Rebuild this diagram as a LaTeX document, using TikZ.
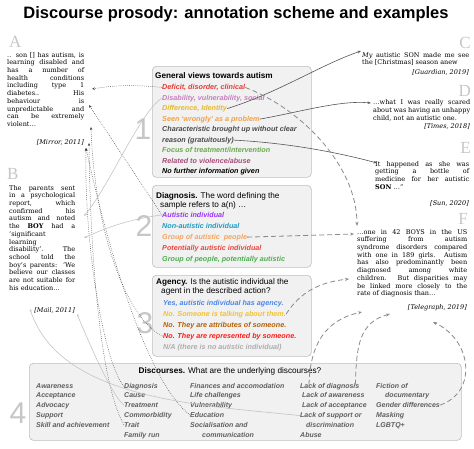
\documentclass[tikz,border=0pt]{standalone}
\usepackage{fontspec}
\setmainfont{DejaVu Serif}
\setsansfont{Liberation Sans}
\newfontfamily\letterfont{Liberation Serif}
\usepackage{tikz}
\usetikzlibrary{arrows.meta, positioning, calc}

\tolerance=10000 \hbadness=10000 \hyphenpenalty=10000

\definecolor{boxfill}{HTML}{F1F1F1}
\definecolor{boxline}{HTML}{BEBEBE}
\definecolor{cDef}{HTML}{E53935}
\definecolor{cDis}{HTML}{C77DBE}
\definecolor{cDif}{HTML}{E8B82A}
\definecolor{cSeen}{HTML}{F0A04B}
\definecolor{cChar}{HTML}{4A4A4A}
\definecolor{cFoc}{HTML}{6AA84F}
\definecolor{cRel}{HTML}{A64D79}
\definecolor{cAut}{HTML}{9B30FF}
\definecolor{cNon}{HTML}{1E9BC4}
\definecolor{cGrp}{HTML}{F4A460}
\definecolor{cPot}{HTML}{E8453C}
\definecolor{cGpp}{HTML}{4CAF50}
\definecolor{cYes}{HTML}{4A86E8}
\definecolor{cSom}{HTML}{F1C232}
\definecolor{cAtt}{HTML}{B45F06}
\definecolor{cRep}{HTML}{FF1A1A}
\definecolor{cNA}{HTML}{ADADAD}
\definecolor{cDisc}{HTML}{5E5E5E}
\definecolor{linkdark}{HTML}{3A3A3A}
\definecolor{linksolid}{HTML}{555555}
\definecolor{linklight}{HTML}{C4C4C4}
\definecolor{linkdash}{HTML}{8A8A8A}

\tikzset{
  catbox/.style={draw=boxline, fill=boxfill, rounded corners=4pt, line width=0.6pt,
    anchor=north west, inner sep=0pt},
  boxhead/.style={font=\sffamily\fontsize{8.2}{10.6}\selectfont, anchor=base west, inner sep=0pt},
  item/.style={font=\sffamily\bfseries\itshape\fontsize{7.2}{10.6}\selectfont, anchor=base west, inner sep=0pt},
  disc/.style={font=\sffamily\bfseries\itshape\fontsize{7}{9.8}\selectfont, text=cDisc, anchor=base west, inner sep=0pt},
  quote/.style={font=\fontsize{6.5}{7.7}\selectfont, anchor=north west, inner sep=0pt, align=justify},
  cite/.style={font=\itshape\fontsize{6.5}{7.7}\selectfont, anchor=base east, inner sep=0pt},
  letterL/.style={font=\letterfont\fontsize{17}{17}\selectfont, text=gray!45, anchor=base west, inner sep=0pt},
  letterR/.style={letterL, anchor=base east},
  bignum/.style={font=\sffamily\fontsize{30}{30}\selectfont, text=gray!45, inner sep=0pt},
  dotlink/.style={draw=linkdark, line width=0.5pt, dash pattern=on 0.6pt off 1.3pt,
    -{Stealth[length=3pt,width=2.4pt]}},
  lightlink/.style={draw=linklight, line width=0.6pt, -{Stealth[length=3pt,width=2.4pt]}},
  solidlink/.style={draw=linksolid, line width=0.6pt, -{Stealth[length=3.5pt,width=2.6pt]}},
  dashlink/.style={draw=linkdash, line width=0.8pt, dash pattern=on 5pt off 3pt,
    -{Stealth[length=4pt,width=3pt]}},
}

\begin{document}
\begin{tikzpicture}[x=1pt, y=-1pt]
  \useasboundingbox (0,0) rectangle (474,448);

  \node[font=\sffamily\bfseries\fontsize{16.5}{18}\selectfont, inner sep=0pt] (title)
    at (236,14) {Discourse prosody: annotation scheme and examples};

  % quotes on the left
  \node[letterL] (lA) at (9,47) {A};
  \node[quote, text width=77pt] (qA) at (7,52) {.. son [] has autism, is\linebreak
    learning disabled and\linebreak has a number of\linebreak health conditions\linebreak
    including type 1\linebreak diabetes.. His\linebreak behaviour is\linebreak
    unpredictable and\linebreak can be extremely\linebreak violent…};
  \node[cite] (cA) at (84,144) {[Mirror, 2011]};

  \node[letterL] (lB) at (7,179) {B};
  \node[quote, text width=66pt] (qB) at (9,185) {The parents sent\linebreak
    in a psychological\linebreak report, which\linebreak confirmed his\linebreak
    autism and noted\linebreak the \textbf{BOY} had a\linebreak 'significant\linebreak
    learning\linebreak disability'. The\linebreak school told the\linebreak
    boy's parents: 'We\linebreak believe our classes\linebreak are not suitable for\linebreak
    his education…};
  \node[cite] (cB) at (75,312) {[Mail, 2011]};

  % quotes on the right
  \node[letterR] (lC) at (471,48) {C};
  \node[quote, text width=107pt] (qC) at (362,52) {\textit{My} autistic SON made me see\linebreak
    the [Christmas] season anew};
  \node[cite] (cC) at (469,74) {[Guardian, 2019]};

  \node[letterR] (lD) at (471,96) {D};
  \node[quote, text width=97pt] (qD) at (373,99.5) {…what I was really scared\linebreak
    about was having an unhappy\linebreak child, not an autistic one.};
  \node[cite] (cD) at (470,128) {[Times, 2018]};

  \node[letterR] (lE) at (471,153) {E};
  \node[quote, text width=94pt] (qE) at (375,161) {It happened as she was\linebreak
    getting a bottle of\linebreak medicine for her autistic\linebreak \textbf{SON} …"};
  \node[cite] (cE) at (469,205) {[Sun, 2020]};

  \node[letterR] (lF) at (468,224) {F};
  \node[quote, text width=110pt] (qF) at (357,229) {…one in 42 BOYS in the US\linebreak
    suffering from autism\linebreak syndrome disorders compared\linebreak
    with one in 189 girls. Autism\linebreak has also predominantly been\linebreak
    diagnosed among white\linebreak children. But disparities may\linebreak
    be linked more closely to the\linebreak rate of diagnosis than…};
  \node[cite] (cF) at (467,309) {[Telegraph, 2019]};

  % box 1: general views
  \node[catbox, minimum width=159pt, minimum height=111pt] (box1) at (152,66) {};
  \node[boxhead, font=\sffamily\bfseries\fontsize{8.2}{10.6}\selectfont] (h1) at (155,78)
    {General views towards autism};
  \node[item, text=cDef]  (v1) at (162,89.5) {Deficit, disorder, clinical};
  \node[item, text=cDis]  (v2) at (162,100) {Disability, vulnerability, social};
  \node[item, text=cDif]  (v3) at (162,110.5) {Difference, Identity};
  \node[item, text=cSeen] (v4) at (162,121) {Seen ‘wrongly’ as a problem};
  \node[item, text=cChar] (v5) at (162,131.5) {Characteristic brought up without clear};
  \node[item, text=cChar] (v5b) at (162,142) {reason (gratuitously)};
  \node[item, text=cFoc]  (v6) at (162,152.5) {Focus of treatment/intervention};
  \node[item, text=cRel]  (v7) at (162,163) {Related to violence/abuse};
  \node[item, text=black] (v8) at (162,173.5) {No further information given};

  % box 2: diagnosis
  \node[catbox, minimum width=159pt, minimum height=82pt] (box2) at (152,185) {};
  \node[boxhead] (h2) at (156,198) {\textbf{Diagnosis.} The word defining the};
  \node[boxhead] (h2b) at (160,207.5) {sample refers to a(n) …};
  \node[item, text=cAut] (g1) at (162,217.5) {Autistic individual};
  \node[item, text=cNon] (g2) at (162,228.5) {Non-autistic individual};
  \node[item, text=cGrp] (g3) at (162,239) {Group of autistic\ \ people};
  \node[item, text=cPot] (g4) at (162,250) {Potentially autistic individual};
  \node[item, text=cGpp] (g5) at (162,261) {Group of people, potentially autistic};

  % box 3: agency
  \node[catbox, minimum width=159pt, minimum height=81pt] (box3) at (152,275) {};
  \node[boxhead] (h3) at (156,284) {\textbf{Agency.} Is the autistic individual the};
  \node[boxhead] (h3b) at (161,293.5) {agent in the described action?};
  \node[item, text=cYes] (a1) at (163,305) {Yes, autistic individual has agency.};
  \node[item, text=cSom] (a2) at (163,316) {No. Someone is talking about them.};
  \node[item, text=cAtt] (a3) at (163,327) {No. They are attributes of someone.};
  \node[item, text=cRep] (a4) at (163,338) {No. They are represented by someone.};
  \node[item, text=cNA]  (a5) at (163,349) {N/A (there is no autistic individual)};

  % box 4: discourses
  \node[catbox, minimum width=432pt, minimum height=77pt] (box4) at (29,363) {};
  \node[boxhead, anchor=base] (h4) at (230,373) {\textbf{Discourses.} What are the underlying discourses?};
  \node[disc] (k1-1) at (36,388) {Awareness};
  \node[disc] (k1-2) at (36,397.8) {Acceptance};
  \node[disc] (k1-3) at (36,407.6) {Advocacy};
  \node[disc] (k1-4) at (36,417.4) {Support};
  \node[disc] (k1-5) at (36,427.2) {Skill and achievement};
  \node[disc] (k2-1) at (124,388) {Diagnosis};
  \node[disc] (k2-2) at (124,397.8) {Cause};
  \node[disc] (k2-3) at (124,407.6) {Treatment};
  \node[disc] (k2-4) at (124,417.4) {Commorbidity};
  \node[disc] (k2-5) at (124,427.2) {Trait};
  \node[disc] (k2-6) at (124,437) {Family run};
  \node[disc] (k3-1) at (190,388) {Finances and accomodation};
  \node[disc] (k3-2) at (190,397.8) {Life challenges};
  \node[disc] (k3-3) at (190,407.6) {Vulnerability};
  \node[disc] (k3-4) at (190,417.4) {Education};
  \node[disc] (k3-5) at (190,427.2) {Socialisation and};
  \node[disc] (k3-6) at (202,437) {communication};
  \node[disc] (k4-1) at (300,388) {Lack of diagnosis};
  \node[disc] (k4-2) at (302,397.8) {Lack of awareness};
  \node[disc] (k4-3) at (302,407.6) {Lack of acceptance};
  \node[disc] (k4-4) at (300,417.4) {Lack of support or};
  \node[disc] (k4-5) at (306,427.2) {discrimination};
  \node[disc] (k4-6) at (300,437) {Abuse};
  \node[disc] (k5-1) at (376,388) {Fiction of};
  \node[disc] (k5-2) at (385,397.8) {documentary};
  \node[disc] (k5-3) at (376,407.6) {Gender differences};
  \node[disc] (k5-4) at (376,417.4) {Masking};
  \node[disc] (k5-5) at (376,427.2) {LGBTQ+};

  % step numbers
  \node[bignum] (n1) at (143,129) {1};
  \node[bignum] (n2) at (144,226) {2};
  \node[bignum] (n3) at (145,323) {3};
  \node[bignum] (n4) at (18,413) {4};

  % where the links land on the quotes
  \coordinate (aIn1) at (92,89);
  \coordinate (aIn2) at (89,105);
  \coordinate (aIn3) at (91,127);
  \coordinate (aIn4) at (89,143);
  \coordinate (aIn5) at (86,148);
  \coordinate (bIn1) at (84,216);
  \coordinate (bIn2) at (84,238);
  \coordinate (bIn3) at (30,309);
  \coordinate (bIn4) at (77,314);
  \coordinate (cIn) at (361,51);
  \coordinate (dIn) at (371,103);
  \coordinate (eIn) at (377,163);
  \coordinate (fIn1) at (357,226);
  \coordinate (fIn2) at (354,234);
  \coordinate (fIn3) at (349,279);
  \coordinate (fIn4) at (362,312);
  \coordinate (fIn5) at (390,314);
  \coordinate (fIn6) at (433,322);

  % links to A and B
  \draw[dotlink] (v1.west) .. controls (130,84) and (110,86) .. (aIn1);
  \draw[dotlink] (g1.west) -- (aIn2);
  \draw[dotlink] (a4.west) .. controls (130,322) and (95,240) .. (aIn3);
  \draw[dotlink] (k2-5.west) .. controls (100,385) and (90,250) .. (aIn4);
  \draw[dotlink] (k2-1.west) .. controls (105,365) and (84,250) .. (aIn5);
  \draw[dotlink] (k3-4.west) .. controls (150,385) and (110,260) .. (aIn5);
  \draw[lightlink] (v2.west) .. controls (140,112) and (110,185) .. (bIn1);
  \draw[lightlink] (g1.west) .. controls (130,219) and (105,228) .. (bIn2);
  \draw[lightlink] (k4-4.west) .. controls (200,405) and (60,400) .. (bIn3);
  \draw[lightlink] (k2-3.west) .. controls (112,395) and (92,350) .. (bIn4);

  % links to C to F
  \draw[solidlink] (v3.east) .. controls (280,92) and (320,65) .. (cIn);
  \draw[solidlink] (v4.east) .. controls (300,112) and (340,100) .. (dIn);
  \draw[solidlink] (v5b.east) .. controls (290,143) and (340,153) .. (eIn);
  \draw[dashlink] (v1.east) .. controls (300,108) and (357,165) .. (fIn1);
  \draw[dashlink] (g3.east) -- (fIn2);
  \draw[dashlink] (a2.east) .. controls (300,292) and (320,282) .. (fIn3);
  \draw[dashlink] ($(k4-1.north west)+(9,2)$) .. controls (310,345) and (325,320) .. (fIn4);
  \draw[dashlink] ($(k4-1.north east)+(-4,2)$) .. controls (356,345) and (360,322) .. (fIn5);
  \draw[dashlink] (k5-3.east) .. controls (478,392) and (472,340) .. (fIn6);
\end{tikzpicture}
\end{document}
